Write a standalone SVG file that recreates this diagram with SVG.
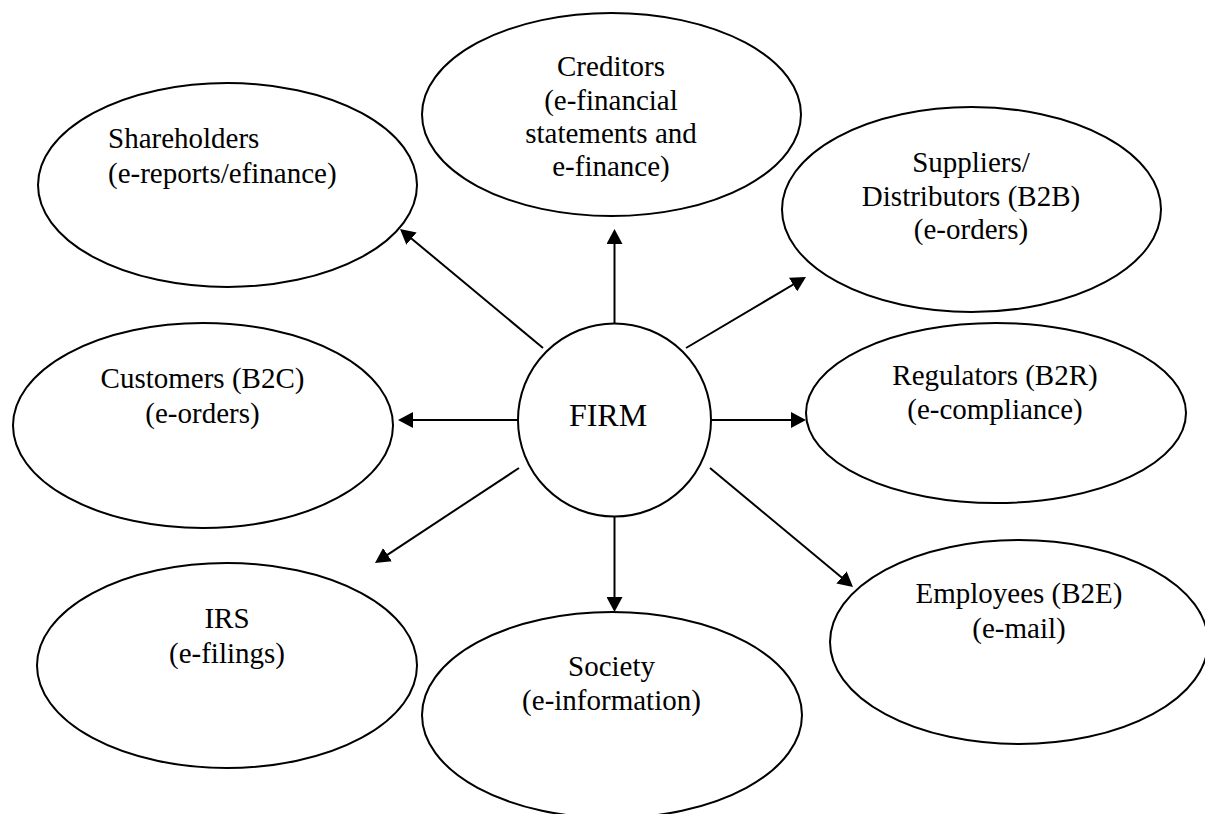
<svg xmlns="http://www.w3.org/2000/svg" width="1205" height="814" viewBox="0 0 1205 814">
  <style>
    .shape { fill: #ffffff; stroke: #000000; stroke-width: 2; }
    .label { font-family: "Liberation Serif", "Times New Roman", serif; font-size: 29px; fill: #000000; text-anchor: middle; }
    .left { text-anchor: start; }
    .firm { font-size: 32px; }
    .link { stroke: #000000; stroke-width: 2; fill: none; marker-end: url(#arrow); }
  </style>
  <defs>
    <marker id="arrow" markerUnits="userSpaceOnUse" markerWidth="16" markerHeight="16" refX="12" refY="8" orient="auto">
      <path d="M0,0 L15,8 L0,16 Z" fill="#000000"/>
    </marker>
  </defs>
  <rect width="1205" height="814" fill="#ffffff"/>

  <!-- stakeholder nodes -->
  <g id="shareholders">
    <ellipse class="shape" cx="227.5" cy="185" rx="189.5" ry="102"/>
    <text class="label left" x="108" y="148">Shareholders</text>
    <text class="label left" x="108" y="183">(e-reports/efinance)</text>
  </g>
  <g id="creditors">
    <ellipse class="shape" cx="611.5" cy="114.5" rx="189.5" ry="101.5"/>
    <text class="label" x="611" y="76">Creditors</text>
    <text class="label" x="611" y="110">(e-financial</text>
    <text class="label" x="611" y="143">statements and</text>
    <text class="label" x="611" y="176">e-finance)</text>
  </g>
  <g id="suppliers">
    <ellipse class="shape" cx="971.5" cy="209.5" rx="189.5" ry="102.5"/>
    <text class="label" x="971" y="172">Suppliers/</text>
    <text class="label" x="971" y="206">Distributors (B2B)</text>
    <text class="label" x="971" y="239">(e-orders)</text>
  </g>
  <g id="customers">
    <ellipse class="shape" cx="203" cy="425.5" rx="190" ry="102.5"/>
    <text class="label" x="202.5" y="388">Customers (B2C)</text>
    <text class="label" x="202.5" y="423">(e-orders)</text>
  </g>
  <g id="regulators">
    <ellipse class="shape" cx="996" cy="413" rx="190" ry="90"/>
    <text class="label" x="995" y="385">Regulators (B2R)</text>
    <text class="label" x="995" y="419">(e-compliance)</text>
  </g>
  <g id="irs">
    <ellipse class="shape" cx="227" cy="665.5" rx="190" ry="102.5"/>
    <text class="label" x="227" y="628">IRS</text>
    <text class="label" x="227" y="663">(e-filings)</text>
  </g>
  <g id="society">
    <ellipse class="shape" cx="612" cy="715" rx="190" ry="103"/>
    <text class="label" x="611.5" y="676">Society</text>
    <text class="label" x="611.5" y="710">(e-information)</text>
  </g>
  <g id="employees">
    <ellipse class="shape" cx="1019" cy="642" rx="189" ry="102"/>
    <text class="label" x="1019" y="603">Employees (B2E)</text>
    <text class="label" x="1019" y="638">(e-mail)</text>
  </g>

  <!-- central node -->
  <g id="firm">
    <circle class="shape" cx="614.5" cy="420" r="96.5"/>
    <text class="label firm" x="608" y="426">FIRM</text>
  </g>

  <!-- connectors from the firm to each stakeholder -->
  <g id="connectors">
    <line class="link" x1="614.5" y1="323.5" x2="614.5" y2="232"/>
    <line class="link" x1="543" y1="348" x2="402.3" y2="230.9"/>
    <line class="link" x1="686" y1="348" x2="803.4" y2="278.5"/>
    <line class="link" x1="711" y1="420" x2="803" y2="420"/>
    <line class="link" x1="518" y1="420" x2="401" y2="420"/>
    <line class="link" x1="519" y1="468" x2="377.5" y2="561.3"/>
    <line class="link" x1="614.5" y1="516.5" x2="614.5" y2="609"/>
    <line class="link" x1="710" y1="468" x2="850.7" y2="585.1"/>
  </g>
</svg>
